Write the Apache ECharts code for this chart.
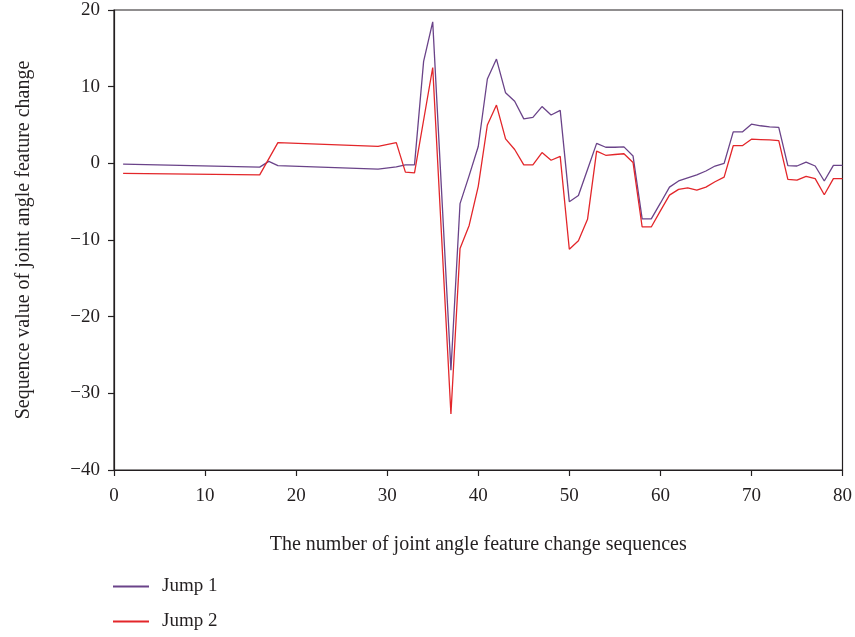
<!DOCTYPE html>
<html>
<head>
<meta charset="utf-8">
<style>
  html, body { margin: 0; padding: 0; background: #fff; }
  #chart { width: 855px; height: 637px; }
</style>
<script src="https://cdn.jsdelivr.net/npm/echarts@6/dist/echarts.min.js"></script>
</head>
<body>
<div id="chart"></div>
<script>
// Sequence index (x) and joint angle feature change value (y) for each jump
const jump1X = [1, 16, 17, 18, 29, 31, 32, 33, 34, 35, 37, 38, 39, 40, 41, 42, 43, 44, 45, 46, 47, 48, 49, 50,
  51, 52, 53, 54, 55, 56, 57, 58, 59, 60, 61, 62, 63, 64, 65, 66, 67, 68, 69, 70, 71, 72, 73, 74, 75, 76, 77, 78, 79, 80];
const jump1Y = [-0.1, -0.5, 0.25, -0.3, -0.75, -0.45, -0.2, -0.2, 13.3, 18.45, -27.0, -5.25, -1.6, 2.2, 11.0, 13.6, 9.2, 8.1, 5.8, 6.0, 7.4, 6.3, 6.9, -5.0,
  -4.2, -0.8, 2.6, 2.1, 2.1, 2.15, 0.95, -7.25, -7.25, -5.2, -3.1, -2.3, -1.9, -1.5, -1.0, -0.35, 0.0, 4.1, 4.1, 5.1, 4.9, 4.75, 4.7, -0.3, -0.35, 0.17, -0.35, -2.3, -0.27, -0.27];

const jump2X = [1, 16, 18, 29, 31, 32, 33, 35, 37, 38, 39, 40, 41, 42, 43, 44, 45, 46, 47, 48, 49, 50,
  51, 52, 53, 54, 55, 56, 57, 58, 59, 60, 61, 62, 63, 64, 65, 66, 67, 68, 69, 70, 71, 72, 73, 74, 75, 76, 77, 78, 79, 80];
const jump2Y = [-1.3, -1.5, 2.7, 2.2, 2.7, -1.15, -1.25, 12.5, -32.7, -11.1, -8.1, -3.0, 5.0, 7.6, 3.2, 1.8, -0.2, -0.2, 1.4, 0.4, 0.9, -11.2,
  -10.1, -7.3, 1.6, 1.05, 1.15, 1.25, 0.1, -8.3, -8.3, -6.2, -4.15, -3.4, -3.2, -3.5, -3.1, -2.4, -1.8, 2.3, 2.3, 3.15, 3.1, 3.05, 2.97, -2.1, -2.2, -1.7, -2.0, -4.1, -2.0, -2.0];

const seriesNames = ['Jump 1', 'Jump 2'];
const xTicks = { min: 0, max: 80, interval: 10 };
const yTicks = { min: -40, max: 20, interval: 10 };

const pairs = (xs, ys) => xs.map((x, i) => [x, ys[i]]);
const minus = v => String(v).replace('-', '\u2212');

const FONT = 'Liberation Serif';
const INK = '#231f20';

const chart = echarts.init(document.getElementById('chart'), null, { renderer: 'canvas' });
chart.setOption({
  animation: false,
  backgroundColor: '#fff',
  textStyle: { fontFamily: FONT, color: INK },
  grid: {
    left: 114, right: 12, top: 10, bottom: 167,
    show: true, borderColor: INK, borderWidth: 1.2, backgroundColor: 'transparent'
  },
  legend: {
    orient: 'vertical',
    left: 113, top: 576, height: 70,
    padding: 0,
    itemWidth: 36, itemHeight: 2, itemGap: 14,
    icon: 'rect',
    textStyle: { fontFamily: FONT, fontSize: 19, color: INK, padding: [0, 0, 0, 8], lineHeight: 21 },
    data: seriesNames
  },
  xAxis: {
    type: 'value',
    min: xTicks.min, max: xTicks.max, interval: xTicks.interval,
    name: 'The number of joint angle feature change sequences',
    nameLocation: 'middle', nameGap: 65,
    nameTextStyle: { fontFamily: FONT, fontSize: 20, color: INK },
    axisLine: { onZero: false, lineStyle: { color: INK, width: 1.2 } },
    axisTick: { show: true, inside: false, length: 6, lineStyle: { color: INK, width: 1.2 } },
    axisLabel: { fontFamily: FONT, fontSize: 19, color: INK, margin: 17, formatter: minus },
    splitLine: { show: false }
  },
  yAxis: {
    type: 'value',
    min: yTicks.min, max: yTicks.max, interval: yTicks.interval,
    name: 'Sequence value of joint angle feature change',
    nameLocation: 'middle', nameGap: 80, nameRotate: 90,
    nameTextStyle: { fontFamily: FONT, fontSize: 20, color: INK },
    axisLine: { onZero: false, lineStyle: { color: INK, width: 1.2 } },
    axisTick: { show: true, inside: false, length: 6, lineStyle: { color: INK, width: 1.2 } },
    axisLabel: { fontFamily: FONT, fontSize: 19, color: INK, margin: 14, formatter: minus },
    splitLine: { show: false }
  },
  series: [
    {
      name: seriesNames[0], type: 'line', symbol: 'none',
      data: pairs(jump1X, jump1Y),
      lineStyle: { color: '#6a4389', width: 1.3 }, itemStyle: { color: '#6a4389' }
    },
    {
      name: seriesNames[1], type: 'line', symbol: 'none',
      data: pairs(jump2X, jump2Y),
      lineStyle: { color: '#e3262a', width: 1.3 }, itemStyle: { color: '#e3262a' }
    }
  ]
});
</script>
</body>
</html>
